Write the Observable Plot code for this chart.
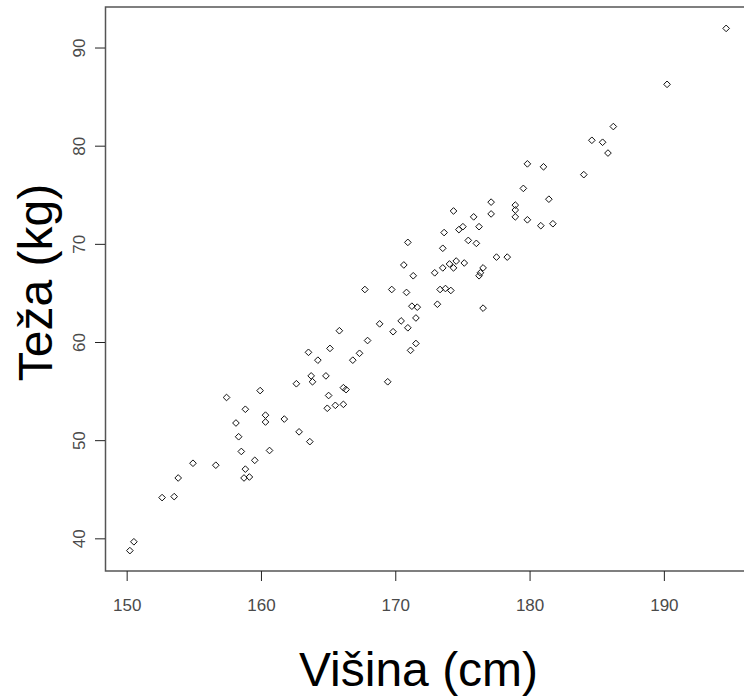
<!DOCTYPE html>
<html>
<head>
<meta charset="utf-8">
<script src="https://cdn.jsdelivr.net/npm/d3@7"></script>
<script src="https://cdn.jsdelivr.net/npm/@observablehq/plot@0.6"></script>
<style>
  html, body { margin: 0; padding: 0; background: #fff; }
  #chart svg { overflow: hidden; font-family: "Liberation Sans", Arial, sans-serif; }
</style>
</head>
<body>
<div id="chart"></div>
<script>
const heights = [
  150.2,150.5,152.6,153.5,153.8,154.9,156.6,157.4,158.1,158.3,
  158.5,158.7,159.1,158.8,158.8,159.5,159.9,160.3,160.3,160.6,
  161.7,162.6,162.8,163.5,163.6,163.7,163.8,164.2,164.8,164.9,
  165.0,165.1,165.5,165.8,166.1,166.1,166.3,166.8,167.3,167.7,
  167.9,168.8,169.4,169.7,169.8,170.4,170.6,170.8,170.9,170.9,
  171.1,171.2,171.3,171.5,171.5,171.6,172.9,173.1,173.3,173.5,
  173.5,173.6,173.7,174.0,174.1,174.3,174.3,174.5,174.7,175.0,
  175.1,175.4,175.8,176.0,176.2,176.2,176.3,176.5,176.5,177.1,
  177.1,177.5,178.3,178.9,178.9,178.9,179.5,179.8,179.8,180.8,
  181.0,181.4,181.7,184.0,184.6,185.4,185.8,186.2,190.2,194.6
];
const weights = [
  38.8,39.7,44.2,44.3,46.2,47.7,47.5,54.4,51.8,50.4,
  48.9,46.2,46.3,47.1,53.2,48.0,55.1,52.6,51.9,49.0,
  52.2,55.8,50.9,59.0,49.9,56.6,56.0,58.2,56.6,53.3,
  54.6,59.4,53.6,61.2,53.7,55.4,55.2,58.2,58.9,65.4,
  60.2,61.9,56.0,65.4,61.1,62.2,67.9,65.1,70.2,61.5,
  59.2,63.7,66.8,62.5,59.9,63.6,67.1,63.9,65.4,69.6,
  67.6,71.2,65.5,68.0,65.3,73.4,67.6,68.3,71.5,71.8,
  68.1,70.4,72.8,70.1,71.8,66.8,67.1,67.6,63.5,74.3,
  73.1,68.7,68.7,73.5,74.0,72.8,75.7,72.5,78.2,71.9,
  77.9,74.6,72.1,77.1,80.6,80.4,79.3,82.0,86.3,92.0
];
const xTicks = [150, 160, 170, 180, 190];
const yTicks = [40, 50, 60, 70, 80, 90];
const xTitle = "Višina (cm)";
const yTitle = "Teža (kg)";

const data = heights.map((h, i) => ({h, w: weights[i]}));

// R-style 4% domain extension
function ext(arr) {
  const [a, b] = d3.extent(arr);
  const p = (b - a) * 0.04;
  return [a - p, b + p];
}
const xDom = ext(heights);
const yDom = ext(weights);

const W = 744, H = 698;
const mL = 105, mT = 7, mB = 127, mR = 0;

const chart = Plot.plot({
  width: W,
  height: H,
  marginLeft: mL,
  marginRight: mR,
  marginTop: mT,
  marginBottom: mB,
  style: {fontFamily: '"Liberation Sans", Arial, sans-serif', background: "#fff"},
  x: {domain: xDom, range: [105.5, 749.5]},
  y: {domain: yDom, range: [571, 7]},
  marks: [
    Plot.rect([{}], {x1: xDom[0], x2: xDom[1], y1: yDom[0], y2: yDom[1], fill: "none", stroke: "#555", strokeWidth: 1.5}),
    Plot.axisX({ticks: xTicks, tickSize: 10, tickPadding: 17, fontSize: 17, color: "#4a4a4a", stroke: "#222", label: null, tickFormat: d => String(d)}),
    Plot.axisY({ticks: yTicks, tickSize: 10, tickFormat: () => "", label: null, stroke: "#222"}),
    Plot.text(yTicks, {y: d => d, text: d => String(d), frameAnchor: "left", dx: -20.5, rotate: -90, lineAnchor: "bottom", textAnchor: "middle", fontSize: 17, fill: "#4a4a4a"}),
    Plot.dot(data, {x: "h", y: "w", symbol: "diamond2", r: 3, stroke: "#111", strokeWidth: 1}),
    Plot.text([xTitle], {text: d => d, frameAnchor: "bottom", dx: -6.5, dy: 114, lineAnchor: "bottom", textAnchor: "middle", fontSize: 48, fill: "#000"}),
    Plot.text([yTitle], {text: d => d, frameAnchor: "left", dx: -54, dy: -7, rotate: -90, lineAnchor: "bottom", textAnchor: "middle", fontSize: 48, fill: "#000"})
  ]
});
document.getElementById("chart").appendChild(chart);
</script>
</body>
</html>
